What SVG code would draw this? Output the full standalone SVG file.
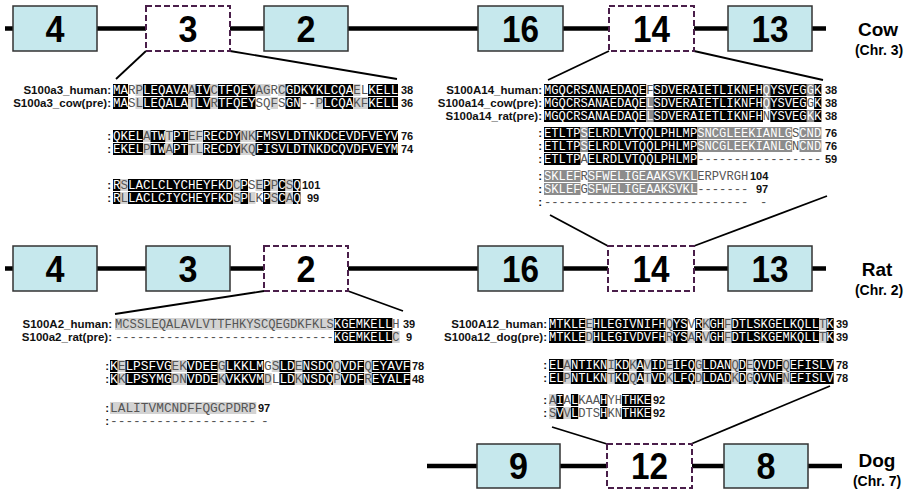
<svg xmlns="http://www.w3.org/2000/svg" width="915" height="492" viewBox="0 0 915 492">
<style>
.cl{stroke:#000;stroke-width:4.5;fill:none}
.box{fill:#c6e8ed;stroke:#333;stroke-width:1.5}
.dbox{fill:#fff;stroke:#4a1f4a;stroke-width:2;stroke-dasharray:6 3}
.num{font-family:"Liberation Sans",Arial,sans-serif;font-weight:bold;font-size:36px;text-anchor:middle;fill:#000}
.sp{font-family:"Liberation Sans",Arial,sans-serif;font-weight:bold;font-size:19px;text-anchor:middle;fill:#000}
.chr{font-family:"Liberation Sans",Arial,sans-serif;font-weight:bold;font-size:14px;text-anchor:middle;fill:#000}
.conn{stroke:#000;stroke-width:1.8;fill:none}
.lab{font-family:"Liberation Sans",Arial,sans-serif;font-weight:bold;font-size:11.5px;text-anchor:end;fill:#111}
.n{font-family:"Liberation Sans",Arial,sans-serif;font-weight:bold;font-size:11px;fill:#111}
.s{font-family:"Liberation Mono","Courier New",monospace;fill:#555}
.f73{font-size:12.17px}
.f75{font-size:12.5px}
.f77{font-size:12.83px}
.w{fill:#fff}
.k{fill:#000}
.gy{fill:#8c8c8c}
.lt{fill:#d3d3d3}
</style>

<!-- chromosome lines -->
<g id="chromosomes">
<line class="cl" x1="5" y1="28.5" x2="826" y2="28.5"/>
<line class="cl" x1="5" y1="268.5" x2="826" y2="268.5"/>
<line class="cl" x1="427" y1="466" x2="842" y2="466"/>
</g>

<!-- connectors -->
<g id="connectors">
<line class="conn" x1="146" y1="51" x2="116" y2="79"/>
<line class="conn" x1="230" y1="51" x2="397" y2="79"/>
<line class="conn" x1="609" y1="51" x2="548" y2="80"/>
<line class="conn" x1="694" y1="51" x2="823" y2="80"/>
<line class="conn" x1="550" y1="215" x2="608" y2="246"/>
<line class="conn" x1="827" y1="196" x2="694" y2="246"/>
<line class="conn" x1="264" y1="291" x2="115" y2="314"/>
<line class="conn" x1="348" y1="291" x2="403" y2="311"/>
<line class="conn" x1="552" y1="427" x2="607" y2="444"/>
<line class="conn" x1="830" y1="386" x2="691" y2="444"/>
</g>

<!-- Cow row -->
<g id="cow-4"><rect class="box" x="13" y="6" width="84" height="45"/><text class="num" x="55" y="41.5" textLength="19" lengthAdjust="spacingAndGlyphs">4</text></g>
<g id="cow-3"><rect class="dbox" x="146" y="6" width="84" height="45"/><text class="num" x="188" y="41.5" textLength="19" lengthAdjust="spacingAndGlyphs">3</text></g>
<g id="cow-2"><rect class="box" x="264" y="6" width="84" height="45"/><text class="num" x="306" y="41.5" textLength="19" lengthAdjust="spacingAndGlyphs">2</text></g>
<g id="cow-16"><rect class="box" x="478" y="6" width="85" height="45"/><text class="num" x="520.5" y="41.5" textLength="37" lengthAdjust="spacingAndGlyphs">16</text></g>
<g id="cow-14"><rect class="dbox" x="609" y="6" width="85" height="45"/><text class="num" x="651.5" y="41.5" textLength="37" lengthAdjust="spacingAndGlyphs">14</text></g>
<g id="cow-13"><rect class="box" x="728" y="6" width="84" height="45"/><text class="num" x="770" y="41.5" textLength="37" lengthAdjust="spacingAndGlyphs">13</text></g>
<g id="cow-label"><text class="sp" x="878" y="36">Cow</text><text class="chr" x="879" y="55">(Chr. 3)</text></g>

<!-- Rat row -->
<g id="rat-4"><rect class="box" x="13" y="246" width="84" height="45"/><text class="num" x="55" y="281.5" textLength="19" lengthAdjust="spacingAndGlyphs">4</text></g>
<g id="rat-3"><rect class="box" x="146" y="246" width="84" height="45"/><text class="num" x="188" y="281.5" textLength="19" lengthAdjust="spacingAndGlyphs">3</text></g>
<g id="rat-2"><rect class="dbox" x="264" y="246" width="84" height="45"/><text class="num" x="306" y="281.5" textLength="19" lengthAdjust="spacingAndGlyphs">2</text></g>
<g id="rat-16"><rect class="box" x="478" y="246" width="85" height="45"/><text class="num" x="520.5" y="281.5" textLength="37" lengthAdjust="spacingAndGlyphs">16</text></g>
<g id="rat-14"><rect class="dbox" x="608" y="246" width="86" height="45"/><text class="num" x="651" y="281.5" textLength="37" lengthAdjust="spacingAndGlyphs">14</text></g>
<g id="rat-13"><rect class="box" x="728" y="246" width="84" height="45"/><text class="num" x="770" y="281.5" textLength="37" lengthAdjust="spacingAndGlyphs">13</text></g>
<g id="rat-label"><text class="sp" x="877" y="276">Rat</text><text class="chr" x="879" y="295">(Chr. 2)</text></g>

<!-- Dog row -->
<g id="dog-9"><rect class="box" x="477" y="444" width="83" height="44"/><text class="num" x="518.5" y="478.5" textLength="19" lengthAdjust="spacingAndGlyphs">9</text></g>
<g id="dog-12"><rect class="dbox" x="607" y="444" width="85" height="44"/><text class="num" x="649.5" y="478.5" textLength="37" lengthAdjust="spacingAndGlyphs">12</text></g>
<g id="dog-8"><rect class="box" x="724" y="444" width="84" height="44"/><text class="num" x="766" y="478.5" textLength="19" lengthAdjust="spacingAndGlyphs">8</text></g>
<g id="dog-label"><text class="sp" x="877" y="467">Dog</text><text class="chr" x="877" y="486">(Chr. 7)</text></g>

<!-- Alignment A: S100a3 -->
<g id="align-s100a3">
<text class="lab" x="111" y="94">S100a3_human:</text>
<text class="lab" x="111" y="107">S100a3_cow(pre):</text>
<text class="lab" x="111" y="140">:</text><text class="lab" x="111" y="153">:</text>
<text class="lab" x="111" y="189">:</text><text class="lab" x="111" y="202">:</text>
<rect class="k" x="113" y="84" width="15" height="12"/><rect class="lt" x="135.5" y="84" width="7.5" height="12"/><rect class="k" x="143" y="84" width="45" height="12"/><rect class="lt" x="188" y="84" width="7.5" height="12"/><rect class="k" x="195.5" y="84" width="15" height="12"/><rect class="lt" x="210.5" y="84" width="7.5" height="12"/><rect class="k" x="218" y="84" width="37.5" height="12"/><rect class="lt" x="255.5" y="84" width="15" height="12"/><rect class="lt" x="278" y="84" width="7.5" height="12"/><rect class="k" x="285.5" y="84" width="67.5" height="12"/><rect class="lt" x="353" y="84" width="7.5" height="12"/><rect class="k" x="368" y="84" width="30" height="12"/>
<text class="s f75" x="113" y="94"><tspan class="w">MA</tspan>RP<tspan class="w">LEQAVA</tspan>A<tspan class="w">IV</tspan>C<tspan class="w">TFQEY</tspan>AGRC<tspan class="w">GDKYKLCQA</tspan>EL<tspan class="w">KELL</tspan></text>
<text class="n" x="401" y="94">38</text>
<rect class="k" x="113" y="97" width="15" height="12"/><rect class="lt" x="135.5" y="97" width="7.5" height="12"/><rect class="k" x="143" y="97" width="45" height="12"/><rect class="lt" x="188" y="97" width="7.5" height="12"/><rect class="k" x="195.5" y="97" width="15" height="12"/><rect class="lt" x="210.5" y="97" width="7.5" height="12"/><rect class="k" x="218" y="97" width="37.5" height="12"/><rect class="lt" x="270.5" y="97" width="7.5" height="12"/><rect class="k" x="285.5" y="97" width="15" height="12"/><rect class="lt" x="315.5" y="97" width="7.5" height="12"/><rect class="k" x="323" y="97" width="30" height="12"/><rect class="lt" x="353" y="97" width="15" height="12"/><rect class="k" x="368" y="97" width="30" height="12"/>
<text class="s f75" x="113" y="107"><tspan class="w">MA</tspan>SL<tspan class="w">LEQALA</tspan>T<tspan class="w">LV</tspan>R<tspan class="w">TFQEY</tspan>SQFS<tspan class="w">GN</tspan>--P<tspan class="w">LCQA</tspan>KF<tspan class="w">KELL</tspan></text>
<text class="n" x="401" y="107">36</text>

<rect class="k" x="113" y="130" width="30" height="12"/><rect class="lt" x="143" y="130" width="7.5" height="12"/><rect class="k" x="150.5" y="130" width="15" height="12"/><rect class="lt" x="165.5" y="130" width="7.5" height="12"/><rect class="k" x="173" y="130" width="15" height="12"/><rect class="lt" x="188" y="130" width="15" height="12"/><rect class="k" x="203" y="130" width="37.5" height="12"/><rect class="lt" x="240.5" y="130" width="15" height="12"/><rect class="k" x="255.5" y="130" width="142.5" height="12"/>
<text class="s f75" x="113" y="140"><tspan class="w">QKEL</tspan>A<tspan class="w">TW</tspan>T<tspan class="w">PT</tspan>EF<tspan class="w">RECDY</tspan>NK<tspan class="w">FMSVLDTNKDCEVDFVEYV</tspan></text>
<text class="n" x="401" y="140">76</text>
<rect class="k" x="113" y="143" width="30" height="12"/><rect class="lt" x="143" y="143" width="7.5" height="12"/><rect class="k" x="150.5" y="143" width="15" height="12"/><rect class="lt" x="165.5" y="143" width="7.5" height="12"/><rect class="k" x="173" y="143" width="15" height="12"/><rect class="lt" x="188" y="143" width="15" height="12"/><rect class="k" x="203" y="143" width="37.5" height="12"/><rect class="lt" x="240.5" y="143" width="15" height="12"/><rect class="k" x="255.5" y="143" width="142.5" height="12"/>
<text class="s f75" x="113" y="153"><tspan class="w">EKEL</tspan>P<tspan class="w">TW</tspan>A<tspan class="w">PT</tspan>TL<tspan class="w">RECDY</tspan>KQ<tspan class="w">FISVLDTNKDCQVDFVEYM</tspan></text>
<text class="n" x="401" y="153">74</text>

<rect class="k" x="113" y="179" width="7.5" height="12"/><rect class="lt" x="120.5" y="179" width="7.5" height="12"/><rect class="k" x="128" y="179" width="105" height="12"/><rect class="lt" x="233" y="179" width="7.5" height="12"/><rect class="k" x="240.5" y="179" width="7.5" height="12"/><rect class="lt" x="255.5" y="179" width="7.5" height="12"/><rect class="k" x="263" y="179" width="7.5" height="12"/><rect class="lt" x="270.5" y="179" width="7.5" height="12"/><rect class="k" x="278" y="179" width="7.5" height="12"/><rect class="lt" x="285.5" y="179" width="7.5" height="12"/><rect class="k" x="293" y="179" width="7.5" height="12"/>
<text class="s f75" x="113" y="189"><tspan class="w">R</tspan>S<tspan class="w">LACLCLYCHEYFKD</tspan>C<tspan class="w">P</tspan>SE<tspan class="w">P</tspan>P<tspan class="w">C</tspan>S<tspan class="w">Q</tspan></text>
<text class="n" x="302" y="189">101</text>
<rect class="k" x="113" y="192" width="7.5" height="12"/><rect class="lt" x="120.5" y="192" width="7.5" height="12"/><rect class="k" x="128" y="192" width="105" height="12"/><rect class="lt" x="233" y="192" width="7.5" height="12"/><rect class="k" x="240.5" y="192" width="7.5" height="12"/><rect class="lt" x="248" y="192" width="7.5" height="12"/><rect class="k" x="263" y="192" width="7.5" height="12"/><rect class="lt" x="270.5" y="192" width="7.5" height="12"/><rect class="k" x="278" y="192" width="7.5" height="12"/><rect class="lt" x="285.5" y="192" width="7.5" height="12"/><rect class="k" x="293" y="192" width="7.5" height="12"/>
<text class="s f75" x="113" y="202"><tspan class="w">R</tspan>L<tspan class="w">LACLCIYCHEYFKD</tspan>S<tspan class="w">P</tspan>LK<tspan class="w">P</tspan>S<tspan class="w">C</tspan>A<tspan class="w">Q</tspan></text>
<text class="n" x="307" y="202">99</text>
</g>

<!-- Alignment B: S100A14 -->
<g id="align-s100a14">
<text class="lab" x="542" y="94">S100A14_human:</text>
<text class="lab" x="542" y="107">S100a14_cow(pre):</text>
<text class="lab" x="542" y="120">S100a14_rat(pre):</text>
<text class="lab" x="542" y="137">:</text><text class="lab" x="542" y="150">:</text><text class="lab" x="542" y="163">:</text>
<text class="lab" x="542" y="180">:</text><text class="lab" x="542" y="193">:</text><text class="lab" x="542" y="206">:</text>
<rect class="k" x="544" y="84" width="102.2" height="12"/><rect class="k" x="653.5" y="84" width="109.5" height="12"/><rect class="gy" x="763" y="84" width="7.3" height="12"/><rect class="k" x="770.3" y="84" width="36.5" height="12"/><rect class="gy" x="806.8" y="84" width="7.3" height="12"/><rect class="k" x="814.1" y="84" width="7.3" height="12"/>
<text class="s f73" x="544" y="94"><tspan class="w">MGQCRSANAEDAQE</tspan>F<tspan class="w">SDVERAIETLIKNFHQYSVEGGK</tspan></text>
<text class="n" x="825" y="94">38</text>
<rect class="k" x="544" y="97" width="102.2" height="12"/><rect class="gy" x="646.2" y="97" width="7.3" height="12"/><rect class="k" x="653.5" y="97" width="109.5" height="12"/><rect class="gy" x="763" y="97" width="7.3" height="12"/><rect class="k" x="770.3" y="97" width="36.5" height="12"/><rect class="k" x="814.1" y="97" width="7.3" height="12"/>
<text class="s f73" x="544" y="107"><tspan class="w">MGQCRSANAEDAQELSDVERAIETLIKNFHQYSVEG</tspan>G<tspan class="w">K</tspan></text>
<text class="n" x="825" y="107">38</text>
<rect class="k" x="544" y="110" width="102.2" height="12"/><rect class="gy" x="646.2" y="110" width="7.3" height="12"/><rect class="k" x="653.5" y="110" width="109.5" height="12"/><rect class="k" x="770.3" y="110" width="36.5" height="12"/><rect class="gy" x="806.8" y="110" width="7.3" height="12"/><rect class="k" x="814.1" y="110" width="7.3" height="12"/>
<text class="s f73" x="544" y="120"><tspan class="w">MGQCRSANAEDAQELSDVERAIETLIKNFH</tspan>N<tspan class="w">YSVEGKK</tspan></text>
<text class="n" x="825" y="120">38</text>

<rect class="k" x="544" y="127" width="36.5" height="12"/><rect class="gy" x="580.5" y="127" width="7.3" height="12"/><rect class="k" x="587.8" y="127" width="109.5" height="12"/><rect class="gy" x="697.3" y="127" width="94.9" height="12"/><rect class="gy" x="799.5" y="127" width="21.9" height="12"/>
<text class="s f73" x="544" y="137"><tspan class="w">ETLTPSELRDLVTQQLPHLMPSNCGLEEKIANLG</tspan>S<tspan class="w">CND</tspan></text>
<text class="n" x="825" y="137">76</text>
<rect class="k" x="544" y="140" width="36.5" height="12"/><rect class="gy" x="580.5" y="140" width="7.3" height="12"/><rect class="k" x="587.8" y="140" width="109.5" height="12"/><rect class="gy" x="697.3" y="140" width="94.9" height="12"/><rect class="gy" x="799.5" y="140" width="21.9" height="12"/>
<text class="s f73" x="544" y="150"><tspan class="w">ETLTPSELRDLVTQQLPHLMPSNCGLEEKIANLG</tspan>N<tspan class="w">CND</tspan></text>
<text class="n" x="825" y="150">76</text>
<rect class="k" x="544" y="153" width="36.5" height="12"/><rect class="k" x="587.8" y="153" width="109.5" height="12"/>
<text class="s f73" x="544" y="163"><tspan class="w">ETLTP</tspan>A<tspan class="w">ELRDLVTQQLPHLMP</tspan>-----------------</text>
<text class="n" x="825" y="163">59</text>

<rect class="gy" x="544" y="170" width="36.5" height="12"/><rect class="gy" x="587.8" y="170" width="109.5" height="12"/>
<text class="s f73" x="544" y="180"><tspan class="w">SKLEF</tspan>R<tspan class="w">SFWELIGEAAKSVKL</tspan>ERPVRGH</text>
<text class="n" x="750" y="180">104</text>
<rect class="gy" x="544" y="183" width="36.5" height="12"/><rect class="gy" x="587.8" y="183" width="109.5" height="12"/>
<text class="s f73" x="544" y="193"><tspan class="w">SKLEF</tspan>G<tspan class="w">SFWELIGEAAKSVKL</tspan>-------</text>
<text class="n" x="756" y="193">97</text>
<text class="s f73" x="544" y="206">----------------------------</text>
<text class="s f73" x="760" y="206">-</text>
</g>

<!-- Alignment C: S100A2 -->
<g id="align-s100a2">
<text class="lab" x="112" y="328">S100A2_human:</text>
<text class="lab" x="112" y="341">S100a2_rat(pre):</text>
<text class="lab" x="109" y="370">:</text><text class="lab" x="109" y="383">:</text>
<text class="lab" x="109" y="412">:</text><text class="lab" x="109" y="425">:</text>
<rect class="lt" x="115" y="318" width="219" height="12"/><rect class="k" x="334" y="318" width="58.4" height="12"/>
<text class="s f73" x="115" y="328">MCSSLEQALAVLVTTFHKYSCQEGDKFKLS<tspan class="w">KGEMKELL</tspan>H</text>
<text class="n" x="403" y="328">39</text>
<rect class="k" x="334" y="331" width="58.4" height="12"/><rect class="lt" x="392.4" y="331" width="7.3" height="12"/>
<text class="s f73" x="115" y="341">------------------------------<tspan class="w">KGEMKELL</tspan>C</text>
<text class="n" x="406" y="341">9</text>

<rect class="k" x="110" y="360" width="7.7" height="12"/><rect class="lt" x="117.7" y="360" width="7.7" height="12"/><rect class="k" x="125.4" y="360" width="46.2" height="12"/><rect class="lt" x="171.6" y="360" width="15.4" height="12"/><rect class="k" x="187" y="360" width="30.8" height="12"/><rect class="lt" x="217.8" y="360" width="7.7" height="12"/><rect class="k" x="225.5" y="360" width="38.5" height="12"/><rect class="lt" x="271.7" y="360" width="7.7" height="12"/><rect class="k" x="279.4" y="360" width="15.4" height="12"/><rect class="lt" x="294.8" y="360" width="7.7" height="12"/><rect class="k" x="302.5" y="360" width="30.8" height="12"/><rect class="lt" x="333.3" y="360" width="7.7" height="12"/><rect class="k" x="341" y="360" width="23.1" height="12"/><rect class="lt" x="364.1" y="360" width="7.7" height="12"/><rect class="k" x="371.8" y="360" width="38.5" height="12"/>
<text class="s f77" x="110" y="370"><tspan class="w">K</tspan>E<tspan class="w">LPSFVG</tspan>EK<tspan class="w">VDEE</tspan>G<tspan class="w">LKKLM</tspan>GS<tspan class="w">LD</tspan>E<tspan class="w">NSDQ</tspan>Q<tspan class="w">VDF</tspan>Q<tspan class="w">EYAVF</tspan></text>
<text class="n" x="412" y="370">78</text>
<rect class="k" x="110" y="373" width="7.7" height="12"/><rect class="lt" x="117.7" y="373" width="7.7" height="12"/><rect class="k" x="125.4" y="373" width="46.2" height="12"/><rect class="lt" x="171.6" y="373" width="15.4" height="12"/><rect class="k" x="187" y="373" width="30.8" height="12"/><rect class="lt" x="217.8" y="373" width="7.7" height="12"/><rect class="k" x="225.5" y="373" width="38.5" height="12"/><rect class="lt" x="264" y="373" width="7.7" height="12"/><rect class="k" x="279.4" y="373" width="15.4" height="12"/><rect class="lt" x="294.8" y="373" width="7.7" height="12"/><rect class="k" x="302.5" y="373" width="30.8" height="12"/><rect class="lt" x="333.3" y="373" width="7.7" height="12"/><rect class="k" x="341" y="373" width="23.1" height="12"/><rect class="lt" x="364.1" y="373" width="7.7" height="12"/><rect class="k" x="371.8" y="373" width="38.5" height="12"/>
<text class="s f77" x="110" y="383"><tspan class="w">K</tspan>K<tspan class="w">LPSYMG</tspan>DN<tspan class="w">VDDE</tspan>K<tspan class="w">VKKVM</tspan>DL<tspan class="w">LD</tspan>K<tspan class="w">NSDQ</tspan>P<tspan class="w">VDF</tspan>R<tspan class="w">EYALF</tspan></text>
<text class="n" x="412" y="383">48</text>

<rect class="lt" x="110" y="402" width="146.3" height="12"/>
<text class="s f77" x="110" y="412">LALITVMCNDFFQGCPDRP</text>
<text class="n" x="258" y="412">97</text>
<text class="s f77" x="110" y="425">-------------------</text>
<text class="s f77" x="261" y="425">-</text>
</g>

<!-- Alignment D: S100A12 -->
<g id="align-s100a12">
<text class="lab" x="547" y="328">S100A12_human:</text>
<text class="lab" x="547" y="341">S100a12_dog(pre):</text>
<text class="lab" x="547" y="369">:</text><text class="lab" x="547" y="382">:</text>
<text class="lab" x="547" y="404">:</text><text class="lab" x="547" y="417">:</text>
<rect class="k" x="549" y="318" width="36.5" height="12"/><rect class="lt" x="585.5" y="318" width="7.3" height="12"/><rect class="k" x="592.8" y="318" width="73" height="12"/><rect class="lt" x="665.8" y="318" width="7.3" height="12"/><rect class="k" x="673.1" y="318" width="14.6" height="12"/><rect class="k" x="695" y="318" width="7.3" height="12"/><rect class="lt" x="702.3" y="318" width="7.3" height="12"/><rect class="k" x="709.6" y="318" width="14.6" height="12"/><rect class="lt" x="724.2" y="318" width="7.3" height="12"/><rect class="k" x="731.5" y="318" width="87.6" height="12"/><rect class="lt" x="819.1" y="318" width="7.3" height="12"/><rect class="k" x="826.4" y="318" width="7.3" height="12"/>
<text class="s f73" x="549" y="328"><tspan class="w">MTKLE</tspan>E<tspan class="w">HLEGIVNIFH</tspan>Q<tspan class="w">YS</tspan>V<tspan class="w">R</tspan>K<tspan class="w">GH</tspan>F<tspan class="w">DTLSKGELKQLL</tspan>T<tspan class="w">K</tspan></text>
<text class="n" x="836" y="328">39</text>
<rect class="k" x="549" y="331" width="36.5" height="12"/><rect class="lt" x="585.5" y="331" width="7.3" height="12"/><rect class="k" x="592.8" y="331" width="73" height="12"/><rect class="lt" x="665.8" y="331" width="7.3" height="12"/><rect class="k" x="673.1" y="331" width="14.6" height="12"/><rect class="lt" x="687.7" y="331" width="7.3" height="12"/><rect class="k" x="695" y="331" width="7.3" height="12"/><rect class="lt" x="702.3" y="331" width="7.3" height="12"/><rect class="k" x="709.6" y="331" width="14.6" height="12"/><rect class="lt" x="724.2" y="331" width="7.3" height="12"/><rect class="k" x="731.5" y="331" width="87.6" height="12"/><rect class="lt" x="819.1" y="331" width="7.3" height="12"/><rect class="k" x="826.4" y="331" width="7.3" height="12"/>
<text class="s f73" x="549" y="341"><tspan class="w">MTKLE</tspan>D<tspan class="w">HLEGIVDVFH</tspan>R<tspan class="w">YS</tspan>A<tspan class="w">R</tspan>V<tspan class="w">GH</tspan>F<tspan class="w">DTLSKGEMKQLL</tspan>T<tspan class="w">K</tspan></text>
<text class="n" x="836" y="341">39</text>

<rect class="k" x="549" y="359" width="14.6" height="12"/><rect class="lt" x="563.6" y="359" width="7.3" height="12"/><rect class="k" x="570.9" y="359" width="36.5" height="12"/><rect class="lt" x="607.4" y="359" width="7.3" height="12"/><rect class="k" x="614.7" y="359" width="14.6" height="12"/><rect class="lt" x="629.3" y="359" width="7.3" height="12"/><rect class="k" x="636.6" y="359" width="7.3" height="12"/><rect class="lt" x="643.9" y="359" width="7.3" height="12"/><rect class="k" x="651.2" y="359" width="14.6" height="12"/><rect class="lt" x="665.8" y="359" width="7.3" height="12"/><rect class="k" x="673.1" y="359" width="21.9" height="12"/><rect class="lt" x="695" y="359" width="7.3" height="12"/><rect class="k" x="702.3" y="359" width="29.2" height="12"/><rect class="lt" x="731.5" y="359" width="7.3" height="12"/><rect class="k" x="738.8" y="359" width="7.3" height="12"/><rect class="lt" x="746.1" y="359" width="7.3" height="12"/><rect class="k" x="753.4" y="359" width="29.2" height="12"/><rect class="lt" x="782.6" y="359" width="7.3" height="12"/><rect class="k" x="789.9" y="359" width="43.8" height="12"/>
<text class="s f73" x="549" y="369"><tspan class="w">EL</tspan>A<tspan class="w">NTIKN</tspan>I<tspan class="w">KD</tspan>K<tspan class="w">A</tspan>V<tspan class="w">ID</tspan>E<tspan class="w">IFQ</tspan>G<tspan class="w">LDAN</tspan>Q<tspan class="w">D</tspan>E<tspan class="w">QVDF</tspan>Q<tspan class="w">EFISLV</tspan></text>
<text class="n" x="836" y="369">78</text>
<rect class="k" x="549" y="372" width="14.6" height="12"/><rect class="lt" x="563.6" y="372" width="7.3" height="12"/><rect class="k" x="570.9" y="372" width="36.5" height="12"/><rect class="lt" x="607.4" y="372" width="7.3" height="12"/><rect class="k" x="614.7" y="372" width="14.6" height="12"/><rect class="lt" x="629.3" y="372" width="7.3" height="12"/><rect class="k" x="636.6" y="372" width="7.3" height="12"/><rect class="lt" x="643.9" y="372" width="7.3" height="12"/><rect class="k" x="651.2" y="372" width="14.6" height="12"/><rect class="lt" x="665.8" y="372" width="7.3" height="12"/><rect class="k" x="673.1" y="372" width="21.9" height="12"/><rect class="lt" x="695" y="372" width="7.3" height="12"/><rect class="k" x="702.3" y="372" width="29.2" height="12"/><rect class="lt" x="731.5" y="372" width="7.3" height="12"/><rect class="k" x="738.8" y="372" width="7.3" height="12"/><rect class="lt" x="746.1" y="372" width="7.3" height="12"/><rect class="k" x="753.4" y="372" width="29.2" height="12"/><rect class="lt" x="782.6" y="372" width="7.3" height="12"/><rect class="k" x="789.9" y="372" width="43.8" height="12"/>
<text class="s f73" x="549" y="382"><tspan class="w">EL</tspan>P<tspan class="w">NTLKN</tspan>T<tspan class="w">KD</tspan>Q<tspan class="w">A</tspan>T<tspan class="w">VD</tspan>K<tspan class="w">LFQ</tspan>D<tspan class="w">LDAD</tspan>K<tspan class="w">D</tspan>G<tspan class="w">QVNF</tspan>N<tspan class="w">EFISLV</tspan></text>
<text class="n" x="836" y="382">78</text>

<rect class="lt" x="549" y="394" width="7.3" height="12"/><rect class="k" x="556.3" y="394" width="7.3" height="12"/><rect class="k" x="570.9" y="394" width="7.3" height="12"/><rect class="k" x="600.1" y="394" width="7.3" height="12"/><rect class="k" x="622" y="394" width="29.2" height="12"/>
<text class="s f73" x="549" y="404">A<tspan class="w">I</tspan>A<tspan class="w">L</tspan>KAA<tspan class="w">H</tspan>YH<tspan class="w">THKE</tspan></text>
<text class="n" x="653" y="404">92</text>
<rect class="lt" x="549" y="407" width="7.3" height="12"/><rect class="k" x="556.3" y="407" width="7.3" height="12"/><rect class="lt" x="563.6" y="407" width="7.3" height="12"/><rect class="k" x="570.9" y="407" width="7.3" height="12"/><rect class="k" x="600.1" y="407" width="7.3" height="12"/><rect class="k" x="622" y="407" width="29.2" height="12"/>
<text class="s f73" x="549" y="417">S<tspan class="w">V</tspan>V<tspan class="w">L</tspan>DTS<tspan class="w">H</tspan>KN<tspan class="w">THKE</tspan></text>
<text class="n" x="653" y="417">92</text>
</g>
</svg>
